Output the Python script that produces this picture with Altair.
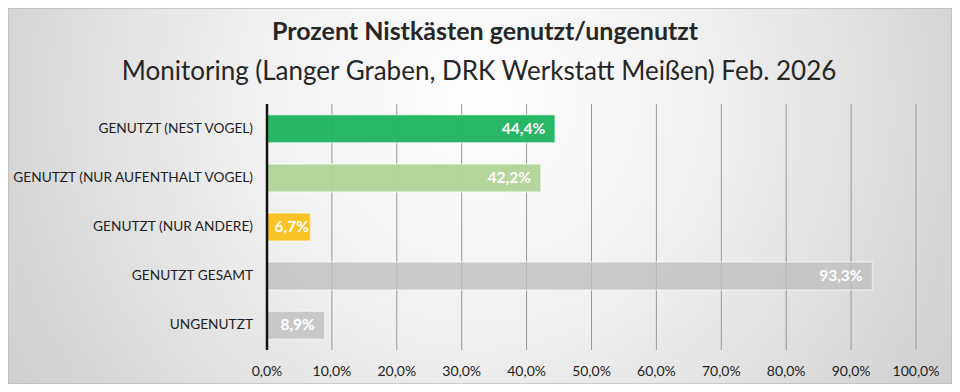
import altair as alt
import pandas as pd

categories = [
    "GENUTZT (NEST VOGEL)",
    "GENUTZT (NUR AUFENTHALT VOGEL)",
    "GENUTZT (NUR ANDERE)",
    "GENUTZT GESAMT",
    "UNGENUTZT",
]
values = [44.4, 42.2, 6.7, 93.3, 8.9]
bar_colors = ["#22b562", "#b1d598", "#fbc21f", "#c0c0c0", "#c0c0c0"]
bar_opacity = [0.97, 0.95, 0.97, 0.8, 0.8]
tick_values = [0, 10, 20, 30, 40, 50, 60, 70, 80, 90, 100]

title_text = "Prozent Nistkästen genutzt/ungenutzt"
subtitle_text = "Monitoring (Langer Graben, DRK Werkstatt Meißen) Feb. 2026"

FONT = "Lato"

df = pd.DataFrame({"cat": categories, "value": values, "color": bar_colors, "op": bar_opacity})
grid_df = pd.DataFrame({"t": tick_values})

W, H = 649, 246
PAD = {"left": 259, "top": 96, "right": 36, "bottom": 34}

x_scale = alt.Scale(domain=[0, 100], nice=False)
y_scale = alt.Scale(domain=categories, paddingInner=0.43, paddingOuter=0.22)

bg = alt.Chart(alt.Data(values=[{"a": 1}])).mark_rect(
    fill=alt.Gradient(
        gradient="radial",
        x1=0.5, y1=0.4, r1=0.0,
        x2=0.5, y2=0.4, r2=0.72,
        stops=[
            alt.GradientStop(color="#ffffff", offset=0.0),
            alt.GradientStop(color="#f0f0f0", offset=0.35),
            alt.GradientStop(color="#c0c0c0", offset=1.0),
        ],
    ),
    stroke="#b0b0b0",
    strokeWidth=1,
).encode(
    x=alt.value(-PAD["left"]),
    x2=alt.value(W + PAD["right"]),
    y=alt.value(-PAD["top"]),
    y2=alt.value(H + PAD["bottom"]),
)

titles = alt.Chart(alt.Data(values=[{"t": title_text, "s": subtitle_text}]))
title_mark = titles.mark_text(
    font=FONT, fontSize=25, fontWeight="bold", color="#262626",
    align="center", baseline="alphabetic"
).encode(text="t:N", x=alt.value(218), y=alt.value(-64))
subtitle_mark = titles.mark_text(
    font=FONT, fontSize=26, color="#262626",
    align="center", baseline="alphabetic"
).encode(text="s:N", x=alt.value(212), y=alt.value(-24))

grid = alt.Chart(grid_df).mark_rule(color="#969696", strokeWidth=1).encode(
    x=alt.X("t:Q", scale=x_scale, axis=None),
    y=alt.value(0),
    y2=alt.value(H),
)

xlabels = alt.Chart(grid_df).transform_calculate(
    lbl="replace(format(datum.t, '.1f'), '.', ',') + '%'"
).mark_text(
    font=FONT, fontSize=14, color="#222222", align="center", baseline="middle"
).encode(
    x=alt.X("t:Q", scale=x_scale, axis=None),
    y=alt.value(H + 22),
    text="lbl:N",
)

bars = alt.Chart(df).mark_bar(
    stroke="#ffffff", strokeOpacity=0.55, strokeWidth=1.5
).encode(
    x=alt.X("value:Q", scale=x_scale, axis=None),
    y=alt.Y("cat:N", scale=y_scale, sort=categories, axis=None),
    fill=alt.Color("color:N", scale=None),
    opacity=alt.Opacity("op:Q", scale=None),
)

ylabels = alt.Chart(df).mark_text(
    font=FONT, fontSize=13.7, color="#1e1e1e", align="right", baseline="middle"
).encode(
    x=alt.value(-14),
    y=alt.Y("cat:N", scale=y_scale, sort=categories, axis=None),
    text="cat:N",
)

domain = alt.Chart(alt.Data(values=[{"z": 0}])).mark_rule(
    color="#111111", strokeWidth=2.5
).encode(
    x=alt.X("z:Q", scale=x_scale, axis=None),
    y=alt.value(0),
    y2=alt.value(H),
)

labels = alt.Chart(df).transform_calculate(
    lbl="replace(format(datum.value, '.1f'), '.', ',') + '%'",
    lx="datum.value < 8 ? datum.value + 1.3 : datum.value",
).mark_text(
    align="right", baseline="middle", dx=-10, color="#ffffff",
    font=FONT, fontSize=15.5, fontWeight="bold"
).encode(
    x=alt.X("lx:Q", scale=x_scale, axis=None),
    y=alt.Y("cat:N", scale=y_scale, sort=categories, axis=None),
    text="lbl:N",
)

chart = alt.layer(
    bg, title_mark, subtitle_mark, grid, xlabels, bars, ylabels, domain, labels
).properties(
    width=W,
    height=H,
    padding=PAD,
    autosize=alt.AutoSizeParams(type="none"),
).configure_view(stroke=None).configure(background="#c8c8c8")

chart.save("out.html", embed_options={"renderer": "svg", "actions": False})
